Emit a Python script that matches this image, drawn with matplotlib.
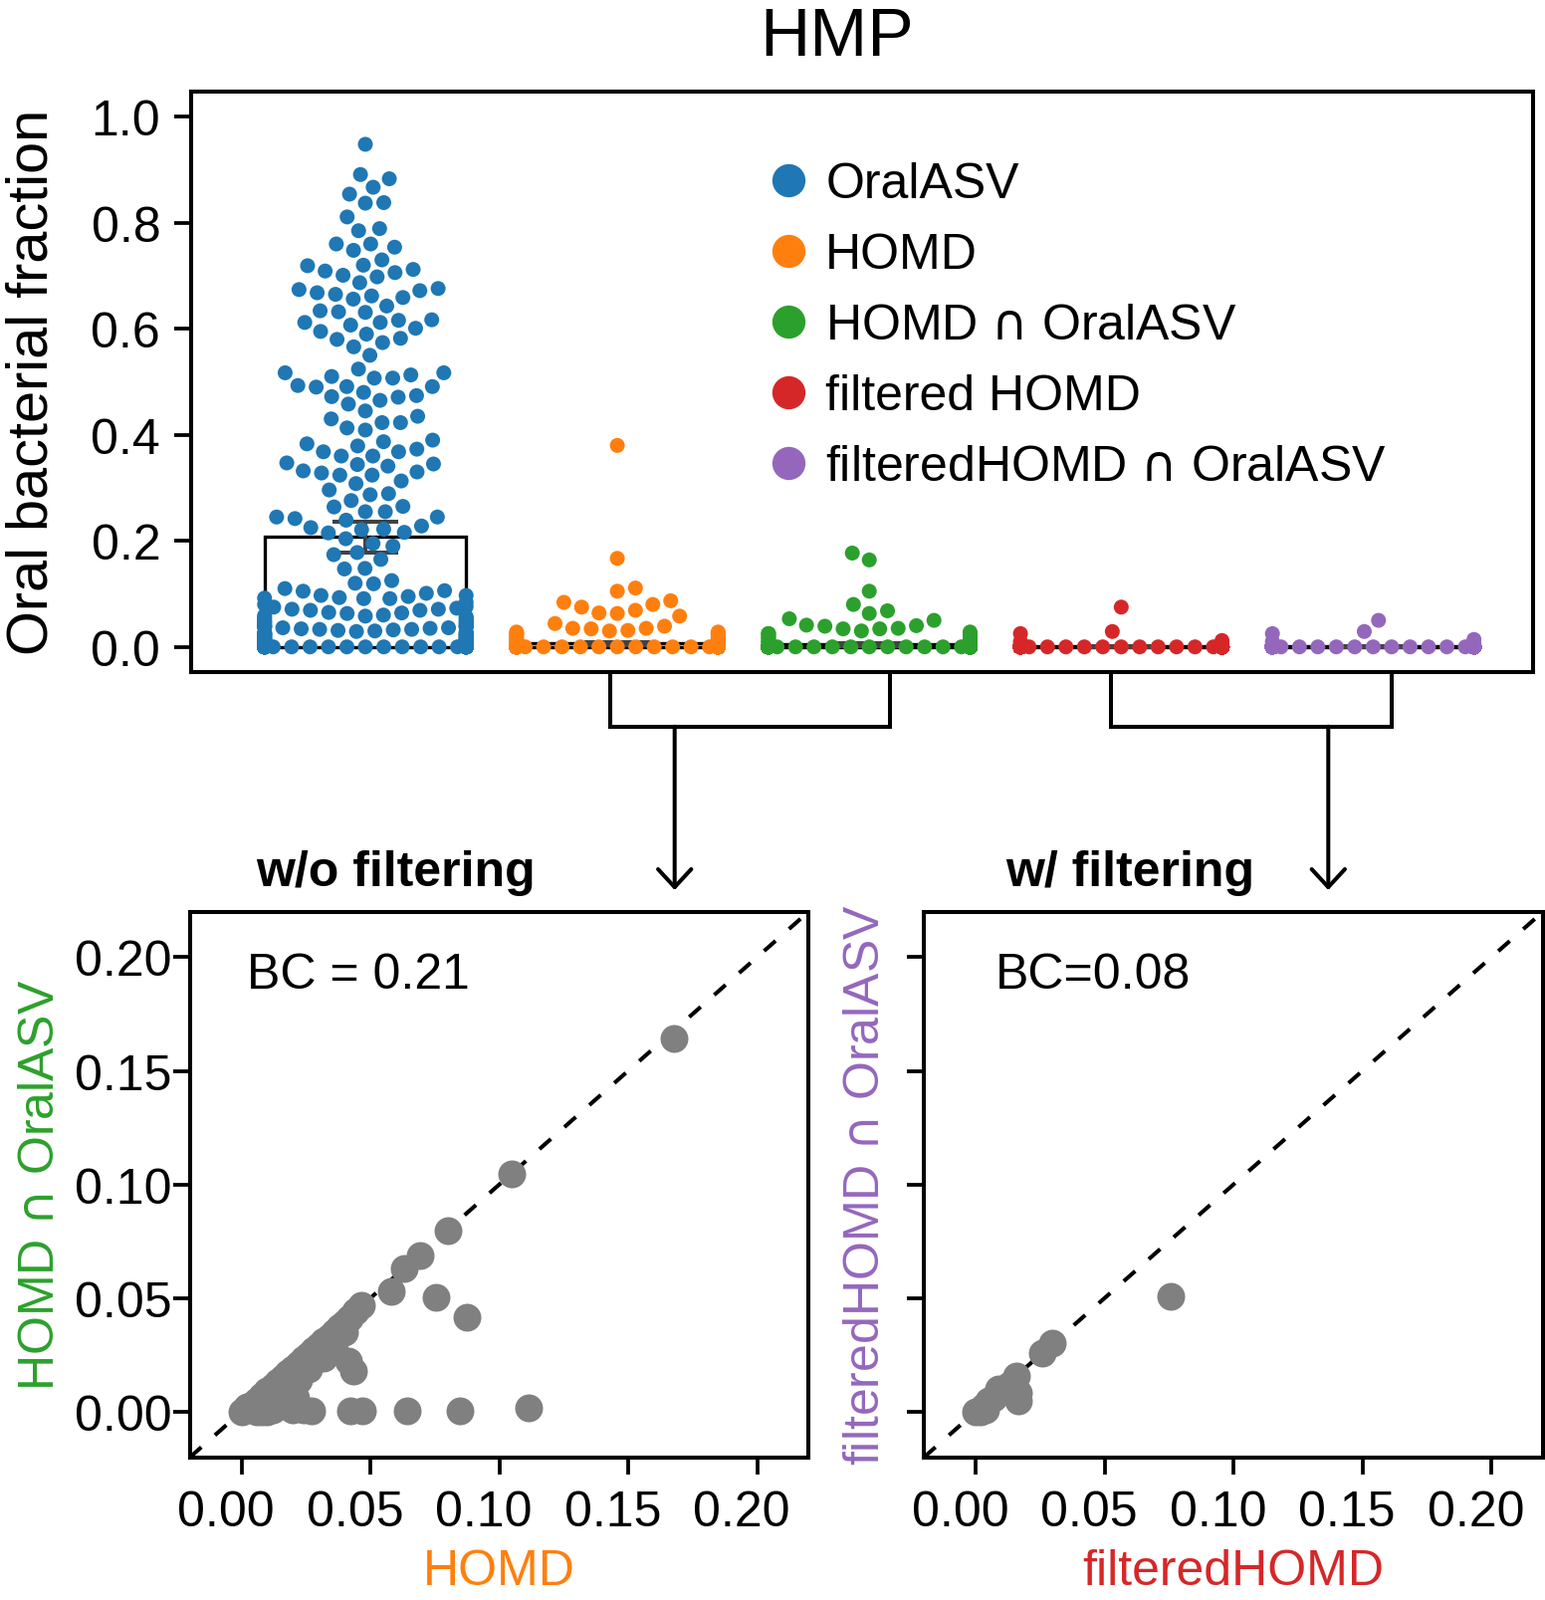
import warnings
import numpy as np
import matplotlib
matplotlib.use('Agg')
import matplotlib.pyplot as plt
import seaborn as sns
from matplotlib.lines import Line2D
from matplotlib.patches import FancyArrowPatch
from matplotlib.transforms import ScaledTranslation

warnings.filterwarnings('ignore')
plt.rcParams['font.family'] = ['Liberation Sans', 'DejaVu Sans']
plt.rcParams['mathtext.fontset'] = 'dejavusans'

# ---- data ----
CAP = r'$\cap$'
groups = ['OralASV', 'HOMD', 'HOMD ' + CAP + ' OralASV', 'filtered HOMD',
          'filteredHOMD ' + CAP + ' OralASV']
colors = ['#1f77b4', '#ff7f0e', '#2ca02c', '#d62728', '#9467bd']

oralasv_high = [0.948, 0.891, 0.883, 0.867, 0.854, 0.837, 0.838, 0.811, 0.789, 0.785,
                0.754, 0.748, 0.760, 0.760, 0.719, 0.730, 0.720, 0.709, 0.701, 0.706,
                0.712, 0.698, 0.687, 0.674, 0.665, 0.659, 0.672, 0.662, 0.668, 0.676,
                0.656, 0.643, 0.634, 0.631, 0.632, 0.617, 0.607, 0.616, 0.612, 0.612,
                0.601, 0.595, 0.582, 0.580, 0.590, 0.574, 0.566, 0.550,
                0.524, 0.513, 0.507, 0.507, 0.517, 0.510, 0.517, 0.491, 0.480, 0.472,
                0.471, 0.490, 0.493, 0.491, 0.474, 0.458, 0.465, 0.445, 0.435, 0.423,
                0.413, 0.409, 0.423, 0.430, 0.390, 0.387, 0.379, 0.360, 0.360, 0.368,
                0.368, 0.373, 0.383, 0.345, 0.330, 0.324, 0.324, 0.341, 0.344, 0.328,
                0.332, 0.347, 0.308, 0.313, 0.296, 0.287, 0.289, 0.276, 0.265, 0.264,
                0.245, 0.245, 0.255, 0.255, 0.239, 0.242, 0.222, 0.216, 0.228, 0.215,
                0.221, 0.225, 0.204, 0.190, 0.195,
                0.165, 0.174, 0.178, 0.147, 0.148, 0.120, 0.119, 0.125, 0.101, 0.110,
                0.106, 0.105]
oralasv_low = [0.097, 0.095, 0.092, 0.091, 0.091, 0.093, 0.097,
               0.080, 0.071, 0.069, 0.064, 0.058, 0.076, 0.073, 0.084, 0.059, 0.063,
               0.069, 0.071, 0.075,
               0.048, 0.039, 0.038, 0.036, 0.033, 0.025, 0.023, 0.025, 0.025, 0.035,
               0.038, 0.038, 0.046, 0.039]
# points hidden in the piles at the edges of the swarm
oralasv_hidden = [0.001, 0.001, 0.002, 0.002, 0.003, 0.003, 0.004, 0.004, 0.005, 0.005,
                  0.006, 0.006, 0.007, 0.007, 0.008, 0.008, 0.009, 0.009, 0.010, 0.010,
                  0.011, 0.012, 0.012, 0.013, 0.014, 0.015, 0.015, 0.016, 0.017, 0.018,
                  0.019, 0.020, 0.021, 0.022, 0.023, 0.024, 0.025, 0.026, 0.027, 0.028,
                  0.029, 0.030, 0.031, 0.032, 0.033, 0.034, 0.036, 0.037, 0.039, 0.041,
                  0.042, 0.044, 0.045, 0.047, 0.049, 0.051, 0.052, 0.054, 0.056, 0.057,
                  0.002, 0.004, 0.006, 0.008, 0.010, 0.012, 0.014, 0.016, 0.018, 0.020,
                  0.003, 0.005, 0.007, 0.009, 0.011, 0.013, 0.060, 0.065]
n_samples = 300

homd_vals = [0.380, 0.167, 0.111, 0.105, 0.084, 0.080, 0.075, 0.087, 0.063, 0.058, 0.064, 0.069,
             0.039, 0.035, 0.031, 0.028, 0.025, 0.025, 0.025, 0.028, 0.030, 0.034, 0.035, 0.044,
             0.002, 0.004, 0.006, 0.008, 0.010, 0.012, 0.014, 0.016, 0.018, 0.020, 0.022,
             0.024, 0.003, 0.007, 0.011, 0.015]
homd_oral_vals = [0.177, 0.164, 0.105, 0.080, 0.068, 0.053, 0.050, 0.063,
                  0.039, 0.034, 0.030, 0.025, 0.025, 0.025, 0.028, 0.034, 0.035, 0.040, 0.041,
                  0.002, 0.005, 0.008, 0.011, 0.014, 0.017, 0.020, 0.023, 0.004, 0.009,
                  0.013, 0.018]
fhomd_vals = [0.075, 0.025, 0.029, 0.012, 0.010, 0.006, 0.004]
fhomd_oral_vals = [0.050, 0.025, 0.029, 0.014, 0.010, 0.006, 0.003]

# scatter: HOMD vs HOMD n OralASV (per sample)
homd_x = [0.1677, 0.1049, 0.0801, 0.0692, 0.0631, 0.0580, 0.0756, 0.0875, 0.0466, 0.0415,
          0.0434, 0.0318, 0.0224, 0.0273, 0.0421, 0.0470, 0.0641, 0.0848, 0.1114,
          0.044, 0.042, 0.040, 0.038, 0.036, 0.034, 0.032, 0.030, 0.028, 0.026, 0.024,
          0.022, 0.020, 0.018, 0.016, 0.014, 0.012, 0.010, 0.008, 0.006, 0.004, 0.002, 0.0,
          0.040, 0.036, 0.030, 0.026, 0.022, 0.018, 0.016, 0.014, 0.012, 0.010, 0.008,
          0.006, 0.004, 0.018, 0.020, 0.024, 0.021, 0.010, 0.014, 0.017, 0.020]
homd_oral_y = [0.1641, 0.1047, 0.0799, 0.0687, 0.0629, 0.0530, 0.0505, 0.0417, 0.0469, 0.0224,
               0.0180, 0.0238, 0.0173, 0.0005, 0.0005, 0.0005, 0.0005, 0.0005, 0.0017,
               0.044, 0.041, 0.039, 0.037, 0.035, 0.033, 0.031, 0.029, 0.027, 0.025, 0.023,
               0.021, 0.019, 0.017, 0.015, 0.013, 0.011, 0.009, 0.007, 0.005, 0.003, 0.002, 0.0,
               0.035, 0.030, 0.024, 0.019, 0.014, 0.010, 0.006, 0.003, 0.001, 0.0, 0.0,
               0.0, 0.001, 0.002, 0.001, 0.001, 0.006, 0.004, 0.008, 0.011, 0.013]
# scatter: filteredHOMD vs filteredHOMD n OralASV
fhomd_x = [0.0757, 0.0296, 0.0260, 0.0157, 0.0165, 0.0165, 0.009, 0.005, 0.0013, 0.0,
           0.003, 0.007, 0.011, 0.013, 0.004, 0.002]
fhomd_oral_y = [0.0508, 0.0301, 0.0260, 0.0158, 0.0085, 0.005, 0.010, 0.005, 0.0005, 0.0,
                0.002, 0.006, 0.010, 0.012, 0.001, 0.0]

bc_left = 'BC = 0.21'
bc_right = 'BC=0.08'
tick_vals = [0.00, 0.05, 0.10, 0.15, 0.20]


def pad_zeros(vals):
    return list(vals) + [0.0] * (n_samples - len(vals))


series = [oralasv_high + oralasv_low + oralasv_hidden,
          homd_vals, homd_oral_vals, fhomd_vals, fhomd_oral_vals]
series = [pad_zeros(s) for s in series]

long_cat = []
long_val = []
for g, s in zip(groups, series):
    long_cat += [g] * len(s)
    long_val += s

W, H = 1552, 1608
fig = plt.figure(figsize=(W / 100, H / 100), dpi=100)

LW = 2.9
ax = fig.add_axes([191.7 / W, 1 - 676 / H, (1540 - 191.7) / W, (676 - 92.7) / H])

means = [np.mean(s) for s in series]
cis = [1.96 * np.std(s, ddof=1) / np.sqrt(len(s)) for s in series]
pos = np.arange(len(groups))
ax.bar(pos, means, width=0.8, facecolor='white', edgecolor='black', linewidth=2.4, zorder=1)
ax.errorbar(pos, means, yerr=cis, fmt='none', ecolor='#424242', elinewidth=2.9,
            capsize=24, capthick=2.9, zorder=2)

sns.swarmplot(x=long_cat, y=long_val, hue=long_cat, order=groups, hue_order=groups,
              palette=colors, size=10.8, linewidth=1.9, edgecolor='none',
              legend=False, ax=ax, zorder=3)

ax.set_xlim(-0.6926, 4.6345)
ax.set_ylim(-0.0475, 1.048)
ax.set_xticks([])
ax.set_yticks([0.0, 0.2, 0.4, 0.6, 0.8, 1.0])
ax.set_yticklabels(['0.0', '0.2', '0.4', '0.6', '0.8', '1.0'])
ax.set_xlabel('')
ax.set_ylabel('')
ax.tick_params(axis='y', labelsize=36, length=12, width=2.7, pad=10)
for sp in ax.spines.values():
    sp.set_linewidth(LW)
    sp.set_visible(True)

handles = [Line2D([0], [0], marker='o', linestyle='none', markersize=24,
                  markerfacecolor=c, markeredgewidth=0) for c in colors]
ax.legend(handles, groups, loc='upper left', bbox_to_anchor=(0.4357, 0.879),
          frameon=False, fontsize=36, handlelength=0.5, handletextpad=0.5,
          labelspacing=0.5, borderpad=0, borderaxespad=0)

fig.text(841 / W, 1 - 38 / H, 'HMP', fontsize=50, ha='center', va='center')
fig.text(33 / W, 1 - 384 / H, 'Oral bacterial fraction', fontsize=41.5,
         rotation=90, ha='center', va='center')

# bottom panels
bot = 1 - 1464.6 / H
hgt = (1464.6 - 916.7) / H
ax1 = fig.add_axes([190.8 / W, bot, 621.5 / W, hgt])
ax2 = fig.add_axes([928.2 / W, bot, 621.8 / W, hgt])

shift = ScaledTranslation(-15.5 / 100, 0, fig.dpi_scale_trans)
panels = [(ax1, homd_x, homd_oral_y, bc_left, 0.092),
          (ax2, fhomd_x, fhomd_oral_y, bc_right, 0.1155)]
for a, xs, ys, bc, bx in panels:
    a.plot([-0.02, 0.22], [-0.02, 0.22], color='black', lw=2.9,
           linestyle=(0, (3.8, 4.5)), zorder=1)
    a.scatter(xs, ys, s=406, color='#808080', linewidths=0, zorder=3)
    a.set_xlim(-0.02, 0.22)
    a.set_ylim(-0.02, 0.22)
    a.set_xticks(tick_vals)
    a.set_xticklabels(['%.2f' % t for t in tick_vals])
    a.set_yticks(tick_vals)
    a.set_yticklabels(['%.2f' % t for t in tick_vals])
    a.tick_params(labelsize=36, length=12, width=2.7)
    a.tick_params(axis='x', pad=11)
    a.tick_params(axis='y', pad=1)
    for lab in a.get_xticklabels():
        lab.set_transform(lab.get_transform() + shift)
    for sp in a.spines.values():
        sp.set_linewidth(LW)
    a.text(bx, 0.884, bc, transform=a.transAxes, fontsize=36, ha='left', va='center')
ax2.tick_params(axis='y', labelleft=False)

ax1.text(0.333, 1.0725, 'w/o filtering', transform=ax1.transAxes, fontsize=36,
         fontweight='bold', ha='center', va='center')
ax2.text(0.333, 1.0725, 'w/ filtering', transform=ax2.transAxes, fontsize=36,
         fontweight='bold', ha='center', va='center')

fig.text(501.5 / W, 1 - 1579 / H, 'HOMD', color=colors[1], fontsize=36, ha='center', va='center')
fig.text(1239 / W, 1 - 1579 / H, 'filteredHOMD', color=colors[3], fontsize=36,
         ha='center', va='center')
fig.text(41 / W, 1 - 1190.6 / H, 'HOMD ' + CAP + ' OralASV', color=colors[2], fontsize=36,
         rotation=90, ha='center', va='center')
fig.text(869.6 / W, 1 - 1190.6 / H, 'filteredHOMD ' + CAP + ' OralASV', color=colors[4],
         fontsize=36, rotation=90, ha='center', va='center')

# brackets and arrows linking the panels
for x1, x2, xs in [(613.3, 894.4, 677.7), (1116, 1398, 1334.3)]:
    fig.add_artist(Line2D([x1 / W, x1 / W, x2 / W, x2 / W],
                          [1 - 677 / H, 1 - 730.7 / H, 1 - 730.7 / H, 1 - 677 / H],
                          transform=fig.transFigure, color='black', lw=LW,
                          solid_joinstyle='miter'))
    fig.add_artist(FancyArrowPatch((xs / W, 1 - 730.7 / H), (xs / W, 1 - 895 / H),
                                   transform=fig.transFigure,
                                   arrowstyle='->,head_length=13,head_width=12',
                                   mutation_scale=1, lw=LW, color='black',
                                   shrinkA=0, shrinkB=0))

fig.savefig('out.png', dpi=100)
